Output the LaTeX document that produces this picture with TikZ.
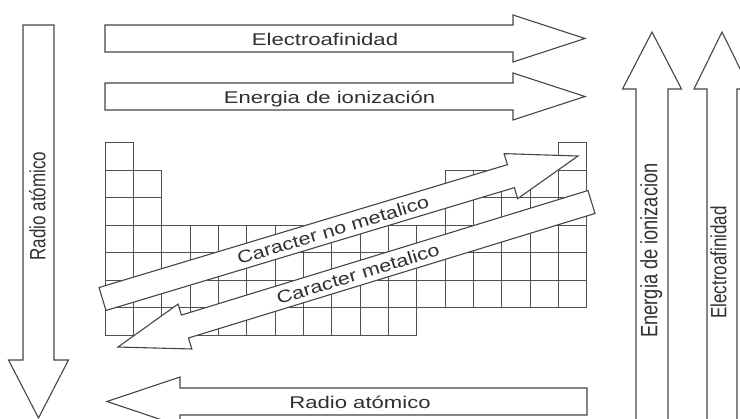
\documentclass[tikz,border=0pt]{standalone}
\usepackage{fontspec}
\setmainfont{Liberation Sans}
\usepackage{graphicx}
\definecolor{lncol}{HTML}{454545}
\definecolor{gridcol}{HTML}{505050}
\definecolor{txtcol}{HTML}{303030}
\tikzset{
  pics/barrow/.style args={#1/#2/#3/#4}{code={
    \draw[ln] (0,-#2) -- ({#1-#4},-#2) -- ({#1-#4},-#3) -- (#1,0) -- ({#1-#4},#3) -- ({#1-#4},#2) -- (0,#2) -- cycle;}},
  ln/.style={draw=lncol, line width=1.1pt, fill=white, line join=miter},
  cell/.style={draw=gridcol, line width=1pt},
  lbl/.style={text=txtcol, inner sep=0pt, font=\fontsize{17}{20}\selectfont, text depth=0pt},
  hlbl/.style={lbl, text height=12.2pt},
  vlbl/.style={lbl, rotate=90, text height=15.9pt},
}
\begin{document}
\begin{tikzpicture}[x=1pt,y=-1pt]
\useasboundingbox (0,0) rectangle (740,419);
\clip (0,0) rectangle (740,419);
% periodic table grid
\foreach \c in {0,16} \draw[cell] ({105+\c*28.35},143) rectangle +(28.35,27.43);
\foreach \r in {1,2} \foreach \c in {0,1,12,13,14,15,16}
  \draw[cell] ({105+\c*28.35},{143+\r*27.43}) rectangle +(28.35,27.43);
\foreach \r in {3,4,5} \foreach \c in {0,...,16}
  \draw[cell] ({105+\c*28.35},{143+\r*27.43}) rectangle +(28.35,27.43);
\foreach \c in {0,...,10}
  \draw[cell] ({105+\c*28.35},{143+6*27.43}) rectangle +(28.35,27.43);
% block arrows
\pic at (105,38.5) {barrow={480/13.5/23.5/72}};
\pic at (105,96.5) {barrow={480/13.5/23.5/72}};
\pic[rotate=180] at (587,401.5) {barrow={480/13.5/24.5/73}};
\pic[rotate=-90] at (38.5,25) {barrow={393/15.5/30/58}};
\pic[rotate=90] at (652,440) {barrow={408/16/29.5/57}};
\pic[rotate=90] at (722,440) {barrow={408/15/28/57}};
\pic[rotate=197.03] at (591.5,202) {barrow={495.2/12/23.5/70}};
\pic[rotate=16.74] at (102.5,299) {barrow={496.5/12/23.5/70}};
% labels
\node[hlbl] (t1) at (325,39) {\scalebox{1.3}[1]{Electroafinidad}};
\node[hlbl] (t2) at (329.5,97) {\scalebox{1.3}[1]{Energia de ionización}};
\node[hlbl] (t3) at (360,402) {\scalebox{1.3}[1]{Radio atómico}};
\node[vlbl] (t4) at (37.5,206) {\scalebox{1}[1.3]{Radio atómico}};
\node[vlbl, font=\fontsize{18.2}{21}\selectfont, text height=16.9pt] (t5) at (649,250.5) {\scalebox{1}[1.3]{Energia de ionizacion}};
\node[vlbl] (t6) at (718.5,262.5) {\scalebox{1}[1.3]{Electroafinidad}};
\node[lbl, rotate=16.74, text height=12.5pt] (t7) at (333,230) {\scalebox{1.27}[1.03]{Caracter no metalico}};
\node[lbl, rotate=17.03, text height=12.5pt] (t8) at (358,274) {\scalebox{1.27}[1.03]{Caracter metalico}};
\end{tikzpicture}
\end{document}
